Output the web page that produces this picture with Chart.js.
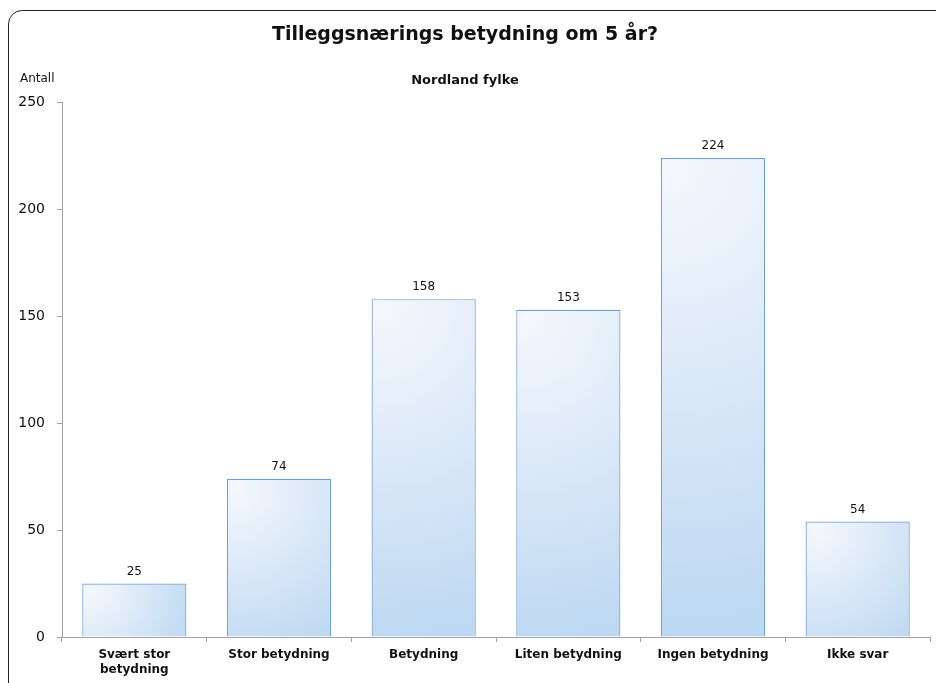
<!DOCTYPE html>
<html>
<head>
<meta charset="utf-8">
<script src="https://cdn.jsdelivr.net/npm/chart.js@4/dist/chart.umd.min.js"></script>
<style>
  html, body { margin: 0; padding: 0; background: #fff; overflow: hidden; }
  #wrap { position: relative; width: 936px; height: 683px; }
  #frame { position: absolute; left: 8px; top: 10px; width: 960px; height: 720px;
           border: 1.5px solid #222; border-radius: 14px; box-sizing: border-box; pointer-events: none; }
  canvas { position: absolute; left: 0; top: 0; }
</style>
</head>
<body>
<div id="wrap">
  <canvas id="c" width="936" height="683"></canvas>
  <div id="frame"></div>
</div>
<script>
const categories = [["Svært stor", "betydning"], "Stor betydning", "Betydning", "Liten betydning", "Ingen betydning", "Ikke svar"];
const values = [25, 74, 158, 153, 224, 54];
const yTicks = [0, 50, 100, 150, 200, 250];
const titleText = "Tilleggsnærings betydning om 5 år?";
const subtitleText = "Nordland fylke";
const yAxisLabel = "Antall";
const CAT_PCT = 0.72;

function barGradient(ctx) {
  const chart = ctx.chart;
  if (ctx.type !== 'data') return '#c4dcf2';
  const xs = chart.scales.x, ys = chart.scales.y;
  if (!xs || !ys || !chart.chartArea) return '#c4dcf2';
  const cx = xs.getPixelForValue(ctx.dataIndex);
  const w = (xs.width / categories.length) * CAT_PCT;
  const left = cx - w / 2;
  const top = ys.getPixelForValue(values[ctx.dataIndex]);
  const bottom = ys.getPixelForValue(0);
  if (!isFinite(cx) || !isFinite(top)) return '#c4dcf2';
  const r = Math.sqrt(w * w + (bottom - top) * (bottom - top));
  const g = chart.ctx.createRadialGradient(left + 8, top + 8, 0, left + 8, top + 8, Math.max(r, 1));
  g.addColorStop(0, '#f4f8fd');
  g.addColorStop(0.45, '#dbe8f7');
  g.addColorStop(1, '#b9d6f1');
  return g;
}

const extras = {
  id: 'extras',
  afterDatasetsDraw(chart) {
    const ctx = chart.ctx;
    const meta = chart.getDatasetMeta(0);
    ctx.save();
    ctx.font = '12px "DejaVu Sans", Verdana, sans-serif';
    ctx.fillStyle = '#111';
    ctx.textAlign = 'center';
    ctx.textBaseline = 'bottom';
    meta.data.forEach((el, i) => {
      ctx.fillText(String(values[i]), el.x, el.y - 6);
    });
    ctx.font = '12px "DejaVu Sans", Verdana, sans-serif';
    ctx.textAlign = 'left';
    ctx.textBaseline = 'middle';
    ctx.fillText(yAxisLabel, 20, 79);
    ctx.restore();
  }
};

new Chart(document.getElementById('c'), {
  type: 'bar',
  data: {
    labels: categories,
    datasets: [{
      data: values,
      backgroundColor: barGradient,
      borderColor: '#6f9fcc',
      borderWidth: 1.2,
      categoryPercentage: CAT_PCT,
      barPercentage: 1.0
    }]
  },
  options: {
    responsive: false,
    animation: false,
    devicePixelRatio: 1,
    layout: { padding: { left: 0, right: 6, top: 0, bottom: 0 } },
    plugins: {
      legend: { display: false },
      tooltip: { enabled: false },
      title: {
        display: true, text: titleText, color: '#111',
        font: { family: '"DejaVu Sans", Verdana, sans-serif', size: 19, weight: 'bold' },
        padding: { top: 24, bottom: 0 }
      },
      subtitle: {
        display: true, text: subtitleText, color: '#111',
        font: { family: '"DejaVu Sans", Verdana, sans-serif', size: 13, weight: 'bold' },
        padding: { top: 26, bottom: 14 }
      }
    },
    scales: {
      x: {
        afterFit(scale) { scale.height = 46; },
        grid: { display: true, drawOnChartArea: false, drawTicks: true, tickLength: 5, color: '#a0a0a0', offset: true },
        border: { display: true, color: '#a0a0a0', width: 1 },
        ticks: {
          color: '#111', padding: 6, maxRotation: 0, autoSkip: false,
          font: { family: '"DejaVu Sans", Verdana, sans-serif', size: 12, weight: 'bold', lineHeight: 1.2 }
        }
      },
      y: {
        min: 0, max: 250,
        afterFit(scale) { scale.width = 62; },
        afterBuildTicks(scale) { scale.ticks = yTicks.map(v => ({ value: v })); },
        grid: { display: true, drawOnChartArea: false, drawTicks: true, tickLength: 5, color: '#a0a0a0' },
        border: { display: true, color: '#a0a0a0', width: 1 },
        ticks: {
          color: '#111', padding: 12,
          font: { family: '"DejaVu Sans", Verdana, sans-serif', size: 14 }
        }
      }
    }
  },
  plugins: [extras]
});
</script>
</body>
</html>
